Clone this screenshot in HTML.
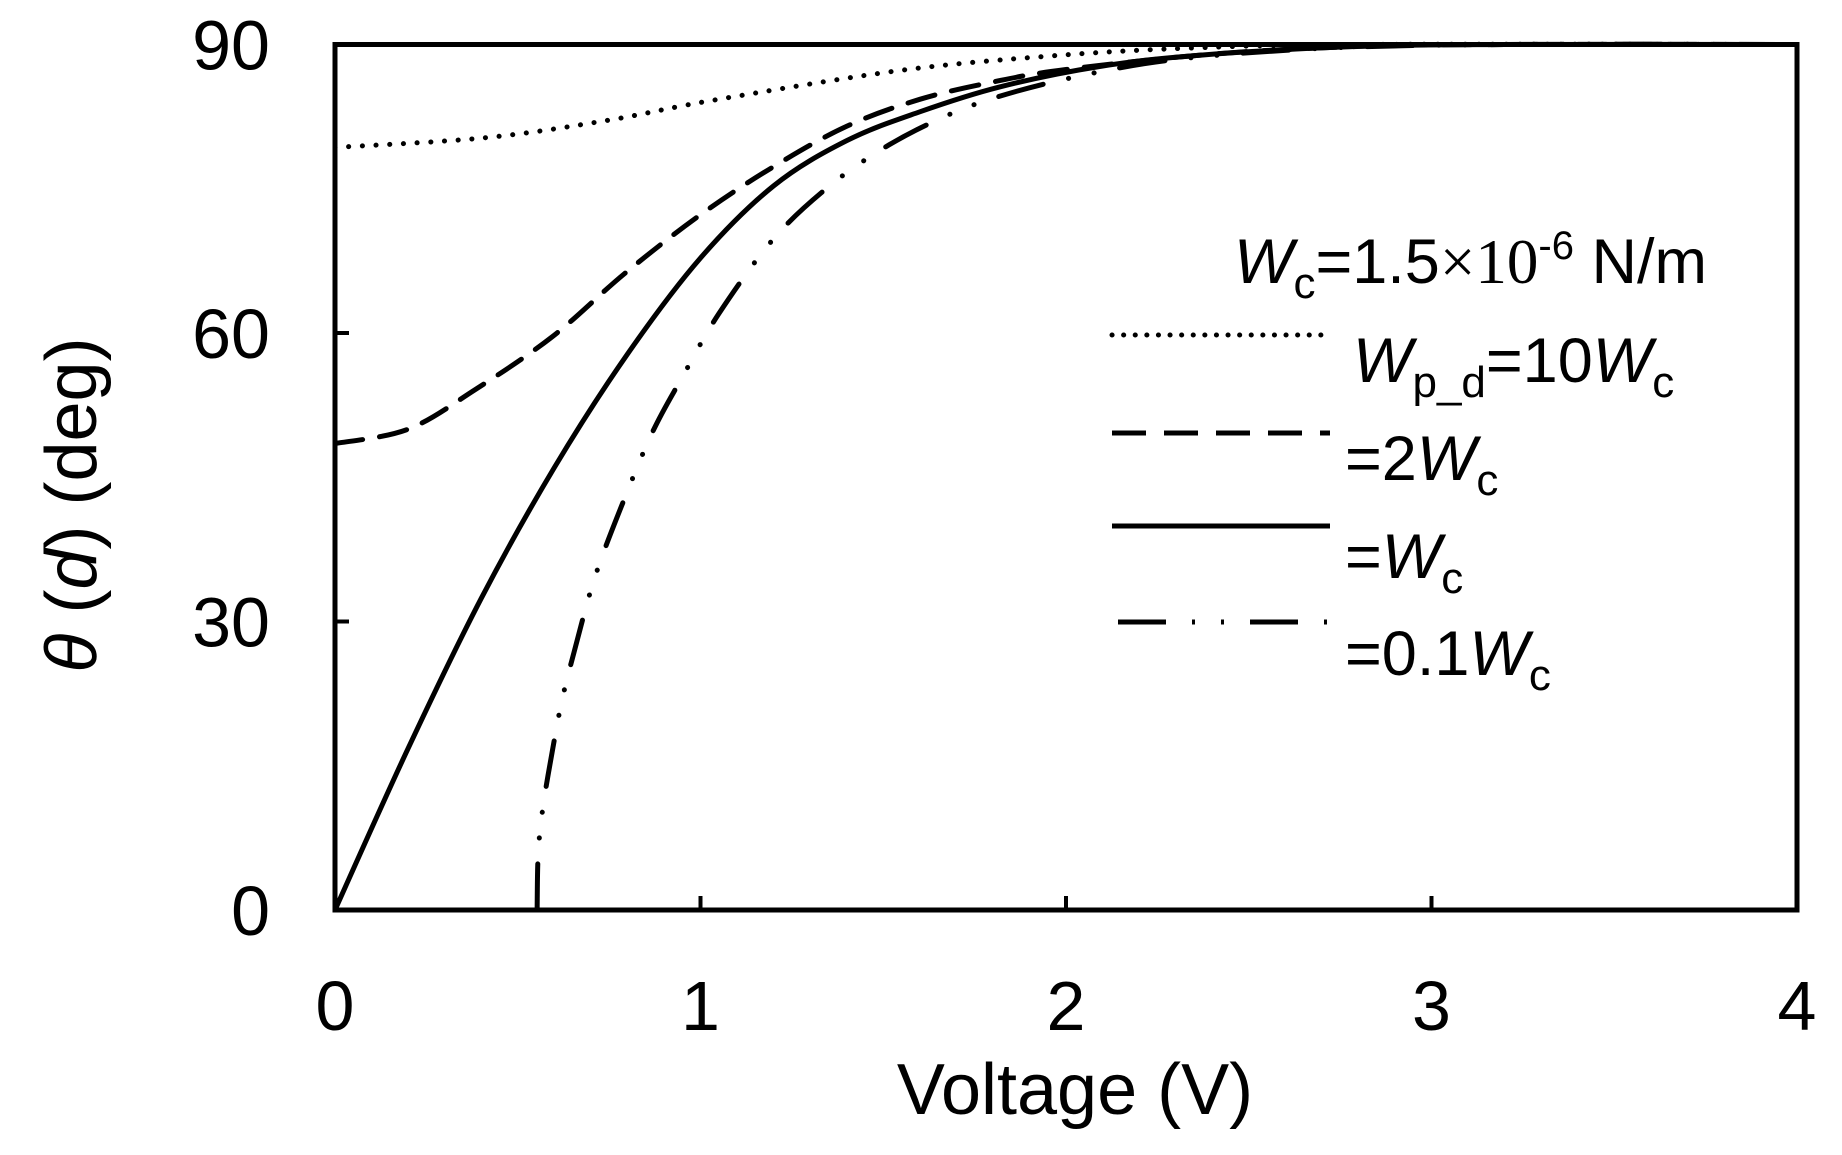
<!DOCTYPE html>
<html><head><meta charset="utf-8"><style>
html,body{margin:0;padding:0;background:#fff;}
svg{display:block;font-family:"Liberation Sans",sans-serif;}
</style></head><body>
<svg id="chart" width="1842" height="1155" viewBox="0 0 1842 1155" xmlns="http://www.w3.org/2000/svg">
<g id="series"></g>
<rect x="335" y="44.5" width="1462" height="865.5" fill="none" stroke="#000" stroke-width="5"/>
<g id="ticks" font-size="70" fill="#000"></g>
<text x="1075" y="1114" font-size="72" text-anchor="middle" fill="#000">Voltage (V)</text>
<text transform="translate(96,505) rotate(-90)" font-size="72" text-anchor="middle" fill="#000"><tspan font-style="italic">θ</tspan> (<tspan font-style="italic">d</tspan>)   (deg)</text>
<g font-size="63" fill="#000">
<text x="1234" y="283"><tspan font-style="italic">W</tspan><tspan font-size="44" dy="15">c</tspan><tspan dy="-15">=1.5</tspan><tspan font-family="Liberation Serif">×10</tspan><tspan font-size="40" dy="-24">-6</tspan><tspan dy="24"> N/m</tspan></text>
<line x1="1112" y1="335" x2="1328" y2="335" stroke="#000" stroke-width="5" stroke-dasharray="0.1 11.5" stroke-linecap="round"/>
<text x="1353" y="382"><tspan font-style="italic">W</tspan><tspan font-size="44" dy="15">p_d</tspan><tspan dy="-15">=10</tspan><tspan font-style="italic">W</tspan><tspan font-size="44" dy="15">c</tspan></text>
<line x1="1112" y1="433" x2="1330" y2="433" stroke="#000" stroke-width="5" stroke-dasharray="34 18"/>
<text x="1345" y="480">=2<tspan font-style="italic">W</tspan><tspan font-size="44" dy="15">c</tspan></text>
<line x1="1112" y1="526" x2="1330" y2="526" stroke="#000" stroke-width="5"/>
<text x="1345" y="578">=<tspan font-style="italic">W</tspan><tspan font-size="44" dy="15">c</tspan></text>
<line x1="1118" y1="622" x2="1335" y2="622" stroke="#000" stroke-width="5" stroke-dasharray="48 26 3 26 3 26"/>
<text x="1345" y="675">=0.1<tspan font-style="italic">W</tspan><tspan font-size="44" dy="15">c</tspan></text>
</g>
</svg>
<script>
const xTicks = [0,1,2,3,4];
const yTicks = [0,30,60,90];
const v10 = [0,0.41,0.744,1.034,1.546,1.956,2.32,2.8,4];
const t10 = [79.3,80.3,82.1,84.2,87.3,88.8,89.6,90,90];
const v2 = [0,0.2,0.383,0.594,0.793,1.0,1.2,1.4,1.6,1.8,2.0,2.4,2.8,3.2,4];
const t2 = [48.5,50,54.1,59.6,66.2,72.3,77.3,81.5,84.3,86.1,87.4,89,89.8,90,90];
const v1 = [0,0.2,0.4,0.6,0.8,1.0,1.2,1.4,1.6,1.82,2.09,2.37,2.8,3.2,4];
const t1 = [0,16.8,32.4,46,57.8,67.8,75.3,80,83,85.6,87.7,88.9,89.8,90,90];
const v01 = [0.553,0.556,0.569,0.594,0.621,0.654,0.711,0.788,0.87,0.95,1.05,1.2,1.35,1.5,1.65,1.8,2.01,2.29,2.7,3.2,4];
const t01 = [0,5.9,10.7,16.4,21.8,26.8,34.6,42.4,49.8,55.4,62,69.8,75.2,79.2,82.2,84.4,86.5,88.4,89.6,90,90];
const X0=335,X1=1797,Y0=910,Y1=44.5;
function xs(v){return X0+(X1-X0)*v/4;}
function ys(t){return Y0-(Y0-Y1)*t/90;}
const NS='http://www.w3.org/2000/svg';
function pathD(vx,vy){
  const p=vx.map((v,i)=>[xs(v),ys(vy[i])]);
  let d='M'+p[0][0]+','+p[0][1];
  for(let i=0;i<p.length-1;i++){
    const a=p[i-1]||p[i],b=p[i],c=p[i+1],e=p[i+2]||c;
    const c1=[b[0]+(c[0]-a[0])/6,b[1]+(c[1]-a[1])/6];
    const c2=[c[0]-(e[0]-b[0])/6,c[1]-(e[1]-b[1])/6];
    d+=' C'+c1+' '+c2+' '+c;
  }
  return d;
}
const g=document.getElementById('series');
function add(vx,vy,dash,name,cap){
  const el=document.createElementNS(NS,'path');
  el.setAttribute('d',pathD(vx,vy));
  el.setAttribute('fill','none');el.setAttribute('stroke','#000');el.setAttribute('stroke-width','5');
  if(dash)el.setAttribute('stroke-dasharray',dash);
  if(cap)el.setAttribute('stroke-linecap',cap);
  
  
  g.appendChild(el);
}
add(v10,t10,'0.1 13.6','series-10wc','round');
add(v2,t2,'28 17','series-2wc','round');
add(v1,t1,null,'series-wc');
add(v01,t01,'46 26 0.1 26 0.1 26','series-0.1wc','round');
const tg=document.getElementById('ticks');
xTicks.forEach(v=>{
  const t=document.createElementNS(NS,'text');
  t.setAttribute('x',xs(v));t.setAttribute('y',1030);t.setAttribute('text-anchor','middle');
  t.textContent=v;
  
  
  tg.appendChild(t);
  if(v>0&&v<4){const l=document.createElementNS(NS,'line');
  l.setAttribute('x1',xs(v));l.setAttribute('x2',xs(v));l.setAttribute('y1',Y0);l.setAttribute('y2',Y0-14);
  l.setAttribute('stroke','#000');l.setAttribute('stroke-width','4');
  
  
  tg.appendChild(l);}
});
yTicks.forEach(v=>{
  const t=document.createElementNS(NS,'text');
  t.setAttribute('x',270);t.setAttribute('y',ys(v)+25);t.setAttribute('text-anchor','end');
  t.textContent=v;
  
  
  tg.appendChild(t);
  if(v>0&&v<90){const l=document.createElementNS(NS,'line');
  l.setAttribute('x1',X0);l.setAttribute('x2',X0+14);l.setAttribute('y1',ys(v));l.setAttribute('y2',ys(v));
  l.setAttribute('stroke','#000');l.setAttribute('stroke-width','4');
  
  
  tg.appendChild(l);}
});
</script>
</body></html>
